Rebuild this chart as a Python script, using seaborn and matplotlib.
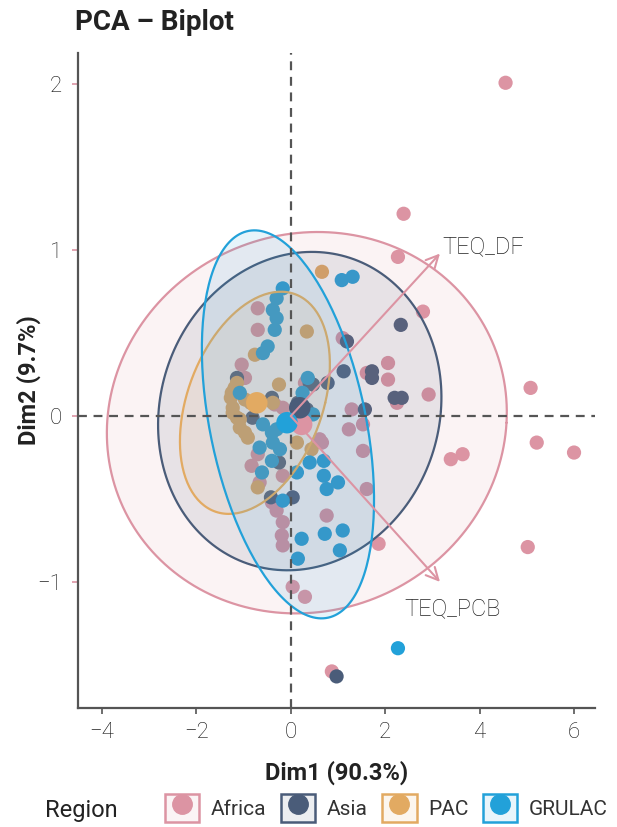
import numpy as np
import pandas as pd
import seaborn as sns
import matplotlib.pyplot as plt
from matplotlib.colors import to_rgb
from matplotlib.patches import Rectangle
from matplotlib.lines import Line2D
from matplotlib.legend_handler import HandlerTuple

# Data
regions = ['Africa', 'Asia', 'PAC', 'GRULAC']
colors = ['#DC94A3', '#4A5C79', '#E2AA62', '#22A1D9']

africa_x = [4.55, 2.39, 2.27, 2.80, 2.06, 2.06, 2.92, 5.08, 5.21, 6.00, 3.39, 3.64,
            5.02, 1.86, 1.10, 1.61, 2.25, 1.29, 1.23, 1.53, 0.30, 0.61, 1.53, 1.61,
            0.76, 0.66, 0.04, 0.30, 0.87, -0.17, -0.19, -0.17, -0.30, -0.40, -0.17,
            -0.83, -0.70, -0.66, -0.70, -0.70, -1.04, -0.97, -0.34, -0.17]
africa_y = [2.01, 1.22, 0.96, 0.63, 0.32, 0.22, 0.13, 0.17, -0.16, -0.22, -0.26, -0.23,
            -0.79, -0.77, 0.47, 0.26, 0.08, 0.04, -0.08, -0.05, 0.20, -0.14, -0.21, -0.44,
            -0.60, -0.16, -1.03, -1.09, -1.54, -0.64, -0.72, -0.78, -0.57, -0.52, -0.36,
            -0.30, -0.23, -0.40, 0.65, 0.52, 0.31, 0.23, 0.07, 0.05]

asia_x = [2.33, 1.19, 1.12, 1.72, 1.72, 2.20, 2.35, 0.78, 0.47, 1.57, 0.15, 0.25,
          -1.14, -0.40, 0.34, -0.25, -0.42, 0.04, 0.97, -0.81, 0.40]
asia_y = [0.55, 0.45, 0.27, 0.27, 0.23, 0.11, 0.11, 0.20, 0.19, 0.04, 0.08, 0.04,
          0.23, 0.11, 0.04, -0.28, -0.49, -0.49, -1.57, -0.01, 0.20]

pac_x = [0.66, 0.34, -0.76, -0.25, -0.38, -1.14, -1.25, -1.27, -1.23, -1.14, -1.08,
         -0.97, -0.91, 0.13, 0.44, -0.70, -1.23, -1.08, -0.97, -0.85, -1.19]
pac_y = [0.87, 0.51, 0.37, 0.19, 0.08, 0.20, 0.14, 0.11, 0.05, -0.01, -0.07,
         -0.10, -0.13, -0.16, -0.20, -0.43, 0.02, -0.02, 0.10, 0.08, 0.17]

grulac_x = [1.08, 1.31, -0.17, -0.30, -0.38, -0.30, -0.34, -0.49, -0.59, 0.36, 0.25,
            -0.59, -0.40, -0.66, -0.23, -0.40, -0.61, 0.13, 0.40, 0.70, 0.70, 0.76,
            1.00, -0.17, 0.23, 0.72, 1.10, 1.04, 0.15, 0.47, 2.27, -1.08, -0.30, -0.38]
grulac_y = [0.82, 0.84, 0.77, 0.71, 0.64, 0.59, 0.52, 0.42, 0.38, 0.23, 0.14,
            -0.05, -0.10, -0.19, -0.20, -0.27, -0.34, -0.34, -0.28, -0.27, -0.36, -0.44,
            -0.40, -0.51, -0.74, -0.71, -0.69, -0.81, -0.86, 0.01, -1.40, 0.14, -0.08, -0.16]

# group centroids
mean_x = [0.23, 0.19, -0.72, -0.08]
mean_y = [-0.05, 0.05, 0.08, -0.04]

# concentration ellipses: centre, half-widths, tilt (x shift of the top point)
ell_cx = [0.34, 0.19, -0.76, -0.06]
ell_cy = [-0.04, 0.03, 0.08, -0.05]
ell_rx = [4.23, 2.99, 1.49, 1.68]
ell_ry = [1.15, 0.96, 0.67, 1.17]
ell_tilt = [0.23, 0.26, 0.55, -0.71]

# variable loadings
var_names = ['TEQ_DF', 'TEQ_PCB']
var_x = [3.16, 3.16]
var_y = [0.98, -1.00]

xs = [africa_x, asia_x, pac_x, grulac_x]
ys = [africa_y, asia_y, pac_y, grulac_y]
df = pd.concat([pd.DataFrame({'Dim1': x, 'Dim2': y, 'Region': r})
                for x, y, r in zip(xs, ys, regions)], ignore_index=True)
means = pd.DataFrame({'Dim1': mean_x, 'Dim2': mean_y, 'Region': regions})
palette = dict(zip(regions, colors))

sns.set_theme(style='white')
plt.rcParams['font.family'] = ['Roboto', 'DejaVu Sans']

fig = plt.figure(figsize=(6.17, 8.27), dpi=100)
ax = fig.add_axes([0.127, 0.144, 0.837, 0.792])

sns.scatterplot(data=df, x='Dim1', y='Dim2', hue='Region', palette=palette,
                s=105, linewidth=0, legend=False, ax=ax, zorder=2)

t = np.linspace(0, 2 * np.pi, 200)
for i, r in enumerate(regions):
    ex = ell_cx[i] + ell_rx[i] * np.cos(t) + ell_tilt[i] * np.sin(t)
    ey = ell_cy[i] + ell_ry[i] * np.sin(t)
    ax.fill(ex, ey, color=colors[i], alpha=0.11, lw=0, zorder=3)
    ax.plot(ex, ey, color=colors[i], lw=1.6, zorder=3)

ax.axhline(0, color='#555555', ls=(0, (4, 3)), lw=1.6, zorder=4)
ax.axvline(0, color='#555555', ls=(0, (4, 3)), lw=1.6, zorder=4)

sns.scatterplot(data=means, x='Dim1', y='Dim2', hue='Region', palette=palette,
                s=240, linewidth=0, legend=False, ax=ax, zorder=5)

for i, name in enumerate(var_names):
    ax.annotate('', xy=(var_x[i], var_y[i]), xytext=(0, 0),
                arrowprops=dict(arrowstyle='->', color=colors[0], lw=1.5,
                                mutation_scale=22, shrinkA=0, shrinkB=0),
                zorder=6)
ax.text(var_x[0] + 0.06, var_y[0] + 0.04, var_names[0], fontsize=17,
        color='#222222', ha='left', va='center', fontweight='light')
ax.text(var_x[1] + 0.27, var_y[1] - 0.16, var_names[1], fontsize=17,
        color='#222222', ha='center', va='center', fontweight='light')

ax.set_xlim(-4.5, 6.44)
ax.set_ylim(-1.76, 2.19)
ax.set_xticks([-4, -2, 0, 2, 4, 6])
ax.set_yticks([-1, 0, 1, 2])
ax.set_xticklabels(['\u22124', '\u22122', '0', '2', '4', '6'])
ax.set_yticklabels(['\u22121', '0', '1', '2'])
ax.tick_params(axis='both', labelsize=16, labelcolor='#111111', length=4, width=1.2,
               direction='out', bottom=True, left=True, pad=6)
ax.tick_params(axis='x', color='#555555')
ax.tick_params(axis='y', color=colors[0], pad=8)
for lab in ax.get_xticklabels() + ax.get_yticklabels():
    lab.set_fontweight('light')
for s in ['top', 'right']:
    ax.spines[s].set_visible(False)
for s in ['left', 'bottom']:
    ax.spines[s].set_color('#555555')
    ax.spines[s].set_linewidth(1.6)

ax.set_xlabel('Dim1 (90.3%)', fontsize=17, fontweight='bold', color='#222222')
ax.set_ylabel('Dim2 (9.7%)', fontsize=17, fontweight='bold', color='#222222')
ax.xaxis.set_label_coords(0.5, -0.08)
ax.yaxis.set_label_coords(-0.072, 0.5)

fig.text(75 / 617, 1 - 22 / 827, 'PCA \u2013 Biplot', fontsize=20, fontweight='bold',
         color='#222222', ha='left', va='center')

handles = []
for c in colors:
    box = Rectangle((0, 0), 1, 1, facecolor=(*to_rgb(c), 0.1), edgecolor=c, lw=1.8)
    dot = Line2D([], [], marker='o', ls='', markersize=14, color=c)
    handles.append((box, dot))
fig.text(45 / 617, 1 - 810 / 827, 'Region', fontsize=17, color='#222222',
         ha='left', va='center')
fig.legend(handles, regions, handler_map={tuple: HandlerTuple(ndivide=1, pad=0)},
           ncol=4, loc='center left', bbox_to_anchor=(165 / 617, 1 - 808 / 827),
           frameon=False, fontsize=15, handlelength=1.65, handleheight=1.75,
           handletextpad=0.55, columnspacing=0.7, numpoints=1, borderpad=0,
           borderaxespad=0, labelcolor='#333333')

fig.savefig('out.png', dpi=100)
